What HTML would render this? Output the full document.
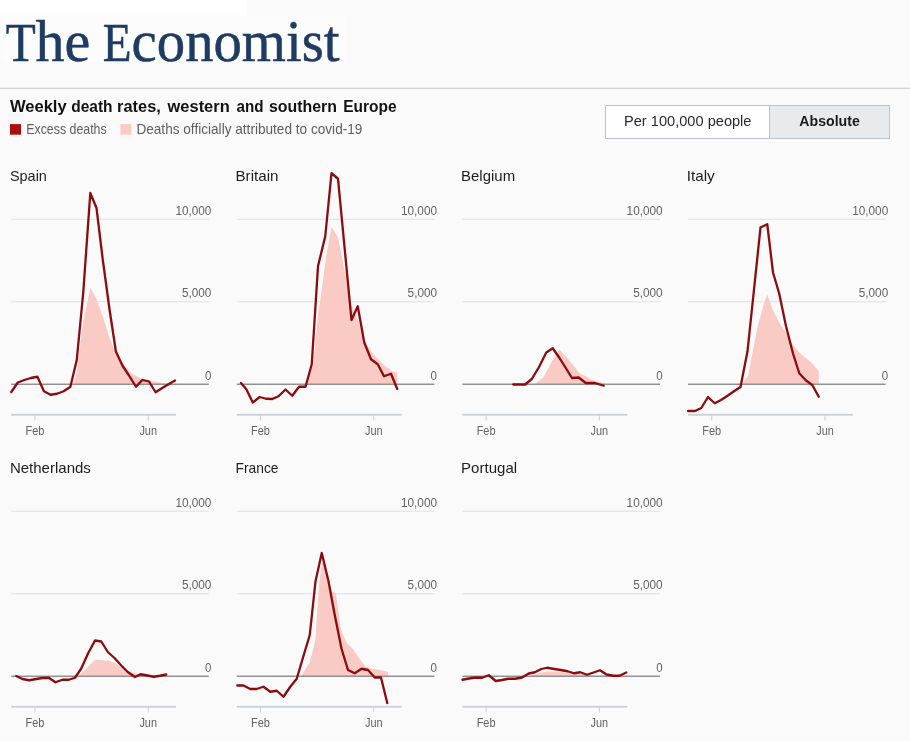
<!DOCTYPE html>
<html><head><meta charset="utf-8"><title>Weekly death rates</title>
<style>
html,body{margin:0;padding:0;background:#fafafa;}
body{width:910px;height:741px;overflow:hidden;font-family:"Liberation Sans",sans-serif;}
svg{display:block;will-change:transform;}
text{font-family:"Liberation Sans",sans-serif;}
.logo{font-family:"Liberation Serif",serif;}
</style></head><body>
<svg width="910" height="741" viewBox="0 0 910 741">
<rect x="0" y="0" width="910" height="741" fill="#fafafa"/>
<rect x="0" y="0" width="246.3" height="15.6" fill="#ffffff"/>
<rect x="4" y="15.6" width="342" height="46.4" fill="#fcfcfc"/>
<text class="logo" x="5.8" y="60.8" font-size="54.7" fill="#1e3c63" stroke="#1e3c63" stroke-width="0.5" textLength="30.0" lengthAdjust="spacingAndGlyphs">T</text>
<text class="logo" x="35.6" y="60.8" font-size="60" fill="#1e3c63" stroke="#1e3c63" stroke-width="0.5" textLength="54.8" lengthAdjust="spacingAndGlyphs">he</text>
<text class="logo" x="102.8" y="60.8" font-size="54.7" fill="#1e3c63" stroke="#1e3c63" stroke-width="0.5" textLength="28.8" lengthAdjust="spacingAndGlyphs">E</text>
<text class="logo" x="131.6" y="60.8" font-size="60" fill="#1e3c63" stroke="#1e3c63" stroke-width="0.5" textLength="208.0" lengthAdjust="spacingAndGlyphs">conomist</text>
<rect x="0" y="87.7" width="910" height="1.2" fill="#cfcfcf"/>
<text x="9.9" y="111.7" font-size="16.5" font-weight="bold" fill="#121212" textLength="56.8" lengthAdjust="spacingAndGlyphs">Weekly</text>
<text x="71.2" y="111.7" font-size="16.5" font-weight="bold" fill="#121212" textLength="41.4" lengthAdjust="spacingAndGlyphs">death</text>
<text x="117.1" y="111.7" font-size="16.5" font-weight="bold" fill="#121212" textLength="43.7" lengthAdjust="spacingAndGlyphs">rates,</text>
<text x="167.6" y="111.7" font-size="16.5" font-weight="bold" fill="#121212" textLength="62.1" lengthAdjust="spacingAndGlyphs">western</text>
<text x="236.5" y="111.7" font-size="16.5" font-weight="bold" fill="#121212" textLength="27.0" lengthAdjust="spacingAndGlyphs">and</text>
<text x="268.9" y="111.7" font-size="16.5" font-weight="bold" fill="#121212" textLength="68.0" lengthAdjust="spacingAndGlyphs">southern</text>
<text x="343.2" y="111.7" font-size="16.5" font-weight="bold" fill="#121212" textLength="53.4" lengthAdjust="spacingAndGlyphs">Europe</text>
<rect x="10" y="124.1" width="11" height="10.6" fill="#ad0c11"/>
<text x="26.2" y="133.9" font-size="14.2" fill="#5e5e5e" textLength="80.5" lengthAdjust="spacingAndGlyphs">Excess deaths</text>
<rect x="120.4" y="124.1" width="11" height="10.6" fill="#f9cbc4"/>
<text x="136.4" y="133.9" font-size="14.2" fill="#5e5e5e" textLength="226" lengthAdjust="spacingAndGlyphs">Deaths officially attributed to covid-19</text>
<rect x="605.5" y="105.5" width="284" height="33" fill="#ffffff" stroke="#b9c3ca" stroke-width="1"/>
<rect x="769.5" y="106" width="119.5" height="32" fill="#e7ebee"/>
<line x1="769.5" y1="105.5" x2="769.5" y2="138.5" stroke="#b9c3ca" stroke-width="1"/>
<text x="624" y="126.3" font-size="14.6" fill="#2a2a2a" textLength="127.5" lengthAdjust="spacingAndGlyphs">Per 100,000 people</text>
<text x="799.3" y="126.3" font-size="14.6" font-weight="bold" fill="#1a1a1a" textLength="60.5" lengthAdjust="spacingAndGlyphs">Absolute</text>

<g>
<text x="9.9" y="181" font-size="14.4" fill="#1d1d1d" textLength="37" lengthAdjust="spacingAndGlyphs">Spain</text>
<rect x="11.2" y="218.65" width="197.6" height="1.2" fill="#e0e4e8"/>
<text x="211.4" y="214.65" font-size="13.7" fill="#636363" text-anchor="end" textLength="36.0" lengthAdjust="spacingAndGlyphs">10,000</text>
<rect x="11.2" y="301.15" width="197.6" height="1.2" fill="#e0e4e8"/>
<text x="211.4" y="297.15" font-size="13.7" fill="#636363" text-anchor="end" textLength="29.4" lengthAdjust="spacingAndGlyphs">5,000</text>
<text x="211.4" y="379.55" font-size="13.7" fill="#636363" text-anchor="end" textLength="6.4" lengthAdjust="spacingAndGlyphs">0</text>
<polygon points="73.50,384.25 76.65,372.00 83.20,322.00 90.30,288.00 96.30,298.50 102.80,316.00 109.40,338.00 115.90,353.00 122.40,363.00 129.00,371.00 135.50,376.00 142.10,378.50 148.60,380.00 155.10,381.50 161.70,383.00 168.20,384.00 170.00,384.25" fill="#f9cbc4"/>
<rect x="11.2" y="383.55" width="197.6" height="1.4" fill="#8c8c8c"/>
<rect x="11.2" y="413.80" width="164.9" height="1.9" fill="#c9d2d9"/>
<rect x="34.4" y="415.00" width="1" height="5.5" fill="#c9d2d9"/>
<text x="34.9" y="434.80" font-size="13.6" fill="#636363" text-anchor="middle" textLength="18.9" lengthAdjust="spacingAndGlyphs">Feb</text>
<rect x="147.7" y="415.00" width="1" height="5.5" fill="#c9d2d9"/>
<text x="148.2" y="434.80" font-size="13.6" fill="#636363" text-anchor="middle" textLength="17.6" lengthAdjust="spacingAndGlyphs">Jun</text>
<polyline points="11.25,392.00 17.80,382.50 24.30,380.00 30.90,378.00 37.40,376.75 43.95,391.25 50.50,394.75 57.00,393.75 63.60,391.25 70.40,386.75 76.75,360.00 83.20,293.00 90.30,193.00 96.50,208.00 102.80,260.00 109.40,308.50 115.90,351.50 122.40,365.50 129.00,375.50 136.00,386.75 142.30,380.00 149.00,381.50 155.60,392.25 162.20,388.00 168.50,384.20 175.00,380.50" fill="none" stroke="#8c0b0f" stroke-width="2.3" stroke-linejoin="round" stroke-linecap="round"/>
</g>
<g>
<text x="235.5" y="181" font-size="14.4" fill="#1d1d1d" textLength="43" lengthAdjust="spacingAndGlyphs">Britain</text>
<rect x="236.8" y="218.65" width="197.6" height="1.2" fill="#e0e4e8"/>
<text x="437.0" y="214.65" font-size="13.7" fill="#636363" text-anchor="end" textLength="36.0" lengthAdjust="spacingAndGlyphs">10,000</text>
<rect x="236.8" y="301.15" width="197.6" height="1.2" fill="#e0e4e8"/>
<text x="437.0" y="297.15" font-size="13.7" fill="#636363" text-anchor="end" textLength="29.4" lengthAdjust="spacingAndGlyphs">5,000</text>
<text x="437.0" y="379.55" font-size="13.7" fill="#636363" text-anchor="end" textLength="6.4" lengthAdjust="spacingAndGlyphs">0</text>
<polygon points="307.25,384.25 313.50,362.50 318.00,315.00 321.00,295.00 326.00,257.50 331.50,226.75 338.00,237.50 344.75,271.00 351.50,305.00 357.75,320.00 364.25,340.00 371.00,351.25 377.75,358.75 384.00,365.00 391.00,370.50 397.25,373.00 397.25,384.25" fill="#f9cbc4"/>
<rect x="236.8" y="383.55" width="197.6" height="1.4" fill="#8c8c8c"/>
<rect x="236.8" y="413.80" width="164.9" height="1.9" fill="#c9d2d9"/>
<rect x="260.0" y="415.00" width="1" height="5.5" fill="#c9d2d9"/>
<text x="260.5" y="434.80" font-size="13.6" fill="#636363" text-anchor="middle" textLength="18.9" lengthAdjust="spacingAndGlyphs">Feb</text>
<rect x="373.3" y="415.00" width="1" height="5.5" fill="#c9d2d9"/>
<text x="373.8" y="434.80" font-size="13.6" fill="#636363" text-anchor="middle" textLength="17.6" lengthAdjust="spacingAndGlyphs">Jun</text>
<polyline points="241.00,383.00 246.50,389.50 252.75,402.50 259.75,397.00 266.00,398.75 272.25,399.00 278.50,396.25 285.50,389.50 292.25,395.75 299.00,386.75 305.50,386.75 311.75,364.25 318.00,266.25 325.25,236.25 331.50,173.25 338.00,178.75 344.75,249.50 351.50,320.00 357.75,306.25 364.25,342.50 371.00,359.25 377.75,364.25 384.00,376.25 391.00,373.75 397.25,389.00" fill="none" stroke="#8c0b0f" stroke-width="2.3" stroke-linejoin="round" stroke-linecap="round"/>
</g>
<g>
<text x="461.1" y="181" font-size="14.4" fill="#1d1d1d" textLength="54" lengthAdjust="spacingAndGlyphs">Belgium</text>
<rect x="462.4" y="218.65" width="197.6" height="1.2" fill="#e0e4e8"/>
<text x="662.6" y="214.65" font-size="13.7" fill="#636363" text-anchor="end" textLength="36.0" lengthAdjust="spacingAndGlyphs">10,000</text>
<rect x="462.4" y="301.15" width="197.6" height="1.2" fill="#e0e4e8"/>
<text x="662.6" y="297.15" font-size="13.7" fill="#636363" text-anchor="end" textLength="29.4" lengthAdjust="spacingAndGlyphs">5,000</text>
<text x="662.6" y="379.55" font-size="13.7" fill="#636363" text-anchor="end" textLength="6.4" lengthAdjust="spacingAndGlyphs">0</text>
<polygon points="534.50,384.25 543.25,377.50 552.00,361.25 559.50,349.50 565.75,356.25 572.00,363.75 579.50,373.25 585.75,376.25 592.00,380.00 603.75,383.00 604.50,384.25" fill="#f9cbc4"/>
<rect x="462.4" y="383.55" width="197.6" height="1.4" fill="#8c8c8c"/>
<rect x="462.4" y="413.80" width="164.9" height="1.9" fill="#c9d2d9"/>
<rect x="485.6" y="415.00" width="1" height="5.5" fill="#c9d2d9"/>
<text x="486.1" y="434.80" font-size="13.6" fill="#636363" text-anchor="middle" textLength="18.9" lengthAdjust="spacingAndGlyphs">Feb</text>
<rect x="598.9" y="415.00" width="1" height="5.5" fill="#c9d2d9"/>
<text x="599.4" y="434.80" font-size="13.6" fill="#636363" text-anchor="middle" textLength="17.6" lengthAdjust="spacingAndGlyphs">Jun</text>
<polyline points="513.25,384.50 525.25,384.50 532.00,378.75 539.00,367.00 546.25,352.50 552.75,348.25 559.50,358.00 565.75,368.00 572.00,378.00 578.75,377.50 585.75,383.00 595.00,383.00 603.75,385.75" fill="none" stroke="#8c0b0f" stroke-width="2.3" stroke-linejoin="round" stroke-linecap="round"/>
</g>
<g>
<text x="686.7" y="181" font-size="14.4" fill="#1d1d1d" textLength="28" lengthAdjust="spacingAndGlyphs">Italy</text>
<rect x="688.0" y="218.65" width="197.6" height="1.2" fill="#e0e4e8"/>
<text x="888.2" y="214.65" font-size="13.7" fill="#636363" text-anchor="end" textLength="36.0" lengthAdjust="spacingAndGlyphs">10,000</text>
<rect x="688.0" y="301.15" width="197.6" height="1.2" fill="#e0e4e8"/>
<text x="888.2" y="297.15" font-size="13.7" fill="#636363" text-anchor="end" textLength="29.4" lengthAdjust="spacingAndGlyphs">5,000</text>
<text x="888.2" y="379.55" font-size="13.7" fill="#636363" text-anchor="end" textLength="6.4" lengthAdjust="spacingAndGlyphs">0</text>
<polygon points="741.75,384.25 748.00,376.25 753.00,350.00 758.00,325.00 764.25,302.50 767.25,294.50 773.00,310.50 779.25,322.50 786.75,333.75 793.00,345.00 799.25,352.50 805.50,357.50 813.00,364.25 818.75,371.25 818.75,384.25" fill="#f9cbc4"/>
<rect x="688.0" y="383.55" width="197.6" height="1.4" fill="#8c8c8c"/>
<rect x="688.0" y="413.80" width="164.9" height="1.9" fill="#c9d2d9"/>
<rect x="711.2" y="415.00" width="1" height="5.5" fill="#c9d2d9"/>
<text x="711.7" y="434.80" font-size="13.6" fill="#636363" text-anchor="middle" textLength="18.9" lengthAdjust="spacingAndGlyphs">Feb</text>
<rect x="824.5" y="415.00" width="1" height="5.5" fill="#c9d2d9"/>
<text x="825.0" y="434.80" font-size="13.6" fill="#636363" text-anchor="middle" textLength="17.6" lengthAdjust="spacingAndGlyphs">Jun</text>
<polyline points="688.00,411.00 695.00,411.00 701.25,408.00 708.00,397.00 714.75,403.25 721.00,400.00 727.50,395.70 734.00,391.30 740.50,387.00 747.50,351.25 754.00,289.50 760.50,227.50 767.25,224.25 773.00,272.50 779.25,293.75 786.00,326.25 793.00,353.50 799.25,373.25 806.00,380.50 812.25,385.00 818.75,396.75" fill="none" stroke="#8c0b0f" stroke-width="2.3" stroke-linejoin="round" stroke-linecap="round"/>
</g>
<g>
<text x="9.9" y="473" font-size="14.4" fill="#1d1d1d" textLength="81" lengthAdjust="spacingAndGlyphs">Netherlands</text>
<rect x="11.2" y="510.65" width="197.6" height="1.2" fill="#e0e4e8"/>
<text x="211.4" y="506.65" font-size="13.7" fill="#636363" text-anchor="end" textLength="36.0" lengthAdjust="spacingAndGlyphs">10,000</text>
<rect x="11.2" y="593.15" width="197.6" height="1.2" fill="#e0e4e8"/>
<text x="211.4" y="589.15" font-size="13.7" fill="#636363" text-anchor="end" textLength="29.4" lengthAdjust="spacingAndGlyphs">5,000</text>
<text x="211.4" y="671.55" font-size="13.7" fill="#636363" text-anchor="end" textLength="6.4" lengthAdjust="spacingAndGlyphs">0</text>
<polygon points="78.75,676.00 86.25,668.50 95.00,659.75 108.00,660.50 115.00,663.00 122.50,668.50 130.00,671.50 136.25,673.50 145.00,675.50 150.00,676.00" fill="#f9cbc4"/>
<rect x="11.2" y="675.55" width="197.6" height="1.4" fill="#8c8c8c"/>
<rect x="11.2" y="705.80" width="164.9" height="1.9" fill="#c9d2d9"/>
<rect x="34.4" y="707.00" width="1" height="5.5" fill="#c9d2d9"/>
<text x="34.9" y="726.80" font-size="13.6" fill="#636363" text-anchor="middle" textLength="18.9" lengthAdjust="spacingAndGlyphs">Feb</text>
<rect x="147.7" y="707.00" width="1" height="5.5" fill="#c9d2d9"/>
<text x="148.2" y="726.80" font-size="13.6" fill="#636363" text-anchor="middle" textLength="17.6" lengthAdjust="spacingAndGlyphs">Jun</text>
<polyline points="16.25,676.00 22.50,679.00 29.25,680.25 36.25,679.00 42.50,678.00 48.75,677.75 55.50,682.25 62.50,679.75 68.75,679.75 75.00,677.75 81.25,668.50 88.00,653.50 95.00,640.50 101.25,641.50 108.00,652.25 114.50,658.00 121.25,665.50 128.00,672.25 135.00,677.00 140.50,674.25 147.50,675.50 153.75,676.75 160.00,675.75 166.25,674.50" fill="none" stroke="#8c0b0f" stroke-width="2.3" stroke-linejoin="round" stroke-linecap="round"/>
</g>
<g>
<text x="235.5" y="473" font-size="14.4" fill="#1d1d1d" textLength="43" lengthAdjust="spacingAndGlyphs">France</text>
<rect x="236.8" y="510.65" width="197.6" height="1.2" fill="#e0e4e8"/>
<text x="437.0" y="506.65" font-size="13.7" fill="#636363" text-anchor="end" textLength="36.0" lengthAdjust="spacingAndGlyphs">10,000</text>
<rect x="236.8" y="593.15" width="197.6" height="1.2" fill="#e0e4e8"/>
<text x="437.0" y="589.15" font-size="13.7" fill="#636363" text-anchor="end" textLength="29.4" lengthAdjust="spacingAndGlyphs">5,000</text>
<text x="437.0" y="671.55" font-size="13.7" fill="#636363" text-anchor="end" textLength="6.4" lengthAdjust="spacingAndGlyphs">0</text>
<polygon points="299.75,676.25 303.00,673.00 306.00,668.00 309.60,662.40 312.50,652.00 315.40,639.00 317.40,609.60 319.40,582.00 322.00,562.00 325.00,566.00 329.00,582.00 332.00,591.00 336.00,594.00 338.00,609.60 341.30,631.00 346.80,643.00 352.60,648.70 358.50,657.50 365.30,666.30 372.20,668.70 380.00,670.00 388.00,671.75 388.00,676.25" fill="#f9cbc4"/>
<rect x="236.8" y="675.55" width="197.6" height="1.4" fill="#8c8c8c"/>
<rect x="236.8" y="705.80" width="164.9" height="1.9" fill="#c9d2d9"/>
<rect x="260.0" y="707.00" width="1" height="5.5" fill="#c9d2d9"/>
<text x="260.5" y="726.80" font-size="13.6" fill="#636363" text-anchor="middle" textLength="18.9" lengthAdjust="spacingAndGlyphs">Feb</text>
<rect x="373.3" y="707.00" width="1" height="5.5" fill="#c9d2d9"/>
<text x="373.8" y="726.80" font-size="13.6" fill="#636363" text-anchor="middle" textLength="17.6" lengthAdjust="spacingAndGlyphs">Jun</text>
<polyline points="237.25,685.50 243.50,685.50 250.25,689.00 256.50,689.00 263.50,686.75 270.25,691.75 276.75,690.75 283.50,696.75 290.25,686.75 296.75,678.75 303.00,657.50 309.75,635.00 315.50,581.25 321.75,553.00 328.50,581.25 334.75,615.00 341.50,648.75 348.00,670.00 354.75,673.25 361.50,668.75 368.00,670.00 374.75,677.50 381.00,677.50 387.25,703.00" fill="none" stroke="#8c0b0f" stroke-width="2.3" stroke-linejoin="round" stroke-linecap="round"/>
</g>
<g>
<text x="461.1" y="473" font-size="14.4" fill="#1d1d1d" textLength="56" lengthAdjust="spacingAndGlyphs">Portugal</text>
<rect x="462.4" y="510.65" width="197.6" height="1.2" fill="#e0e4e8"/>
<text x="662.6" y="506.65" font-size="13.7" fill="#636363" text-anchor="end" textLength="36.0" lengthAdjust="spacingAndGlyphs">10,000</text>
<rect x="462.4" y="593.15" width="197.6" height="1.2" fill="#e0e4e8"/>
<text x="662.6" y="589.15" font-size="13.7" fill="#636363" text-anchor="end" textLength="29.4" lengthAdjust="spacingAndGlyphs">5,000</text>
<text x="662.6" y="671.55" font-size="13.7" fill="#636363" text-anchor="end" textLength="6.4" lengthAdjust="spacingAndGlyphs">0</text>
<polygon points="527.00,676.00 535.00,674.50 541.25,672.50 547.00,671.50 554.50,671.50 560.75,672.00 567.50,672.75 574.00,674.00 580.25,674.25 587.00,675.25 595.00,676.00" fill="#f9cbc4"/>
<rect x="462.4" y="675.55" width="197.6" height="1.4" fill="#8c8c8c"/>
<rect x="462.4" y="705.80" width="164.9" height="1.9" fill="#c9d2d9"/>
<rect x="485.6" y="707.00" width="1" height="5.5" fill="#c9d2d9"/>
<text x="486.1" y="726.80" font-size="13.6" fill="#636363" text-anchor="middle" textLength="18.9" lengthAdjust="spacingAndGlyphs">Feb</text>
<rect x="598.9" y="707.00" width="1" height="5.5" fill="#c9d2d9"/>
<text x="599.4" y="726.80" font-size="13.6" fill="#636363" text-anchor="middle" textLength="17.6" lengthAdjust="spacingAndGlyphs">Jun</text>
<polyline points="462.50,679.75 469.00,678.50 475.75,677.50 482.00,677.75 488.75,675.25 495.75,681.00 502.00,680.00 508.25,678.75 515.25,678.75 522.00,677.50 528.75,673.50 535.00,672.25 541.25,669.00 547.00,667.75 554.50,669.00 560.75,670.00 567.50,671.25 574.00,673.25 580.25,672.25 587.00,674.75 593.50,672.50 600.00,670.25 606.50,674.50 613.25,675.75 619.50,675.75 626.25,672.50" fill="none" stroke="#8c0b0f" stroke-width="2.3" stroke-linejoin="round" stroke-linecap="round"/>
</g>
</svg></body></html>
